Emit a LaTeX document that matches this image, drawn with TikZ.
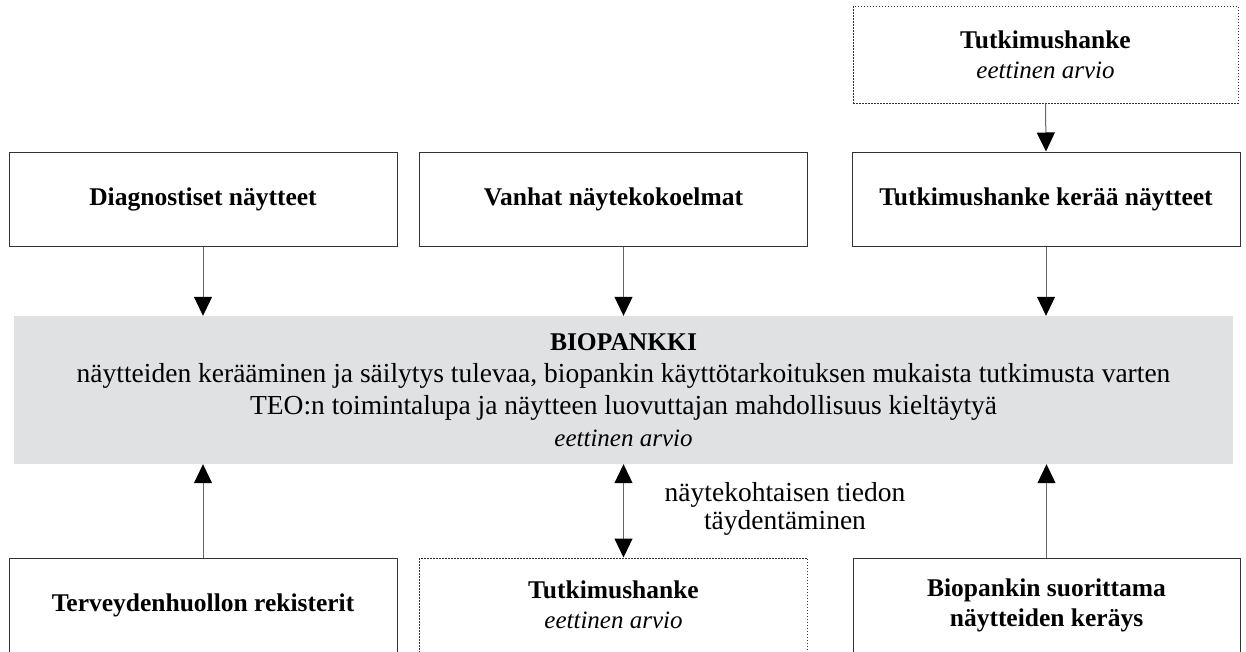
\documentclass[tikz,border=0pt]{standalone}
\usepackage{fontspec}
\setmainfont{Liberation Serif}
\usetikzlibrary{arrows.meta}
\begin{document}
\begin{tikzpicture}[x=1pt,y=-1pt,
  box/.style={draw=black!80, line width=1pt, minimum width=388pt, minimum height=94pt, inner sep=0pt, align=center, font=\fontsize{25.5}{30}\selectfont\bfseries},
  dbox/.style={box, dash pattern=on 1.5pt off 1.5pt},
  tipA/.style={},
  arr/.style={draw=black!60, line width=1pt, -{Triangle[width=18pt,length=19pt,color=black]}},
  darr/.style={draw=black!60, line width=1pt, {Triangle[width=18pt,length=19pt,color=black]}-{Triangle[width=18pt,length=19pt,color=black]}},
  itx/.style={font=\fontsize{25}{30}\selectfont\normalfont\itshape},
]
\useasboundingbox (0,0) rectangle (1246,651);
\clip (0,0) rectangle (1246,651);
% grey band
\node[fill={rgb,255:red,224;green,225;blue,227}, minimum width=1219pt, minimum height=148pt, inner sep=0pt, align=center, font=\fontsize{27.5}{32}\selectfont] (bio) at (623.5,390)
  {{\fontsize{25.5}{32}\selectfont\bfseries BIOPANKKI}\\
   näytteiden kerääminen ja säilytys tulevaa, biopankin käyttötarkoituksen mukaista tutkimusta varten\\
   TEO:n toimintalupa ja näytteen luovuttajan mahdollisuus kieltäytyä\\
   {\fontsize{25}{32}\selectfont\itshape eettinen arvio}};
% top dotted box
\node[dbox, minimum width=385pt, minimum height=97pt] (t) at (1045.5,54.5)
  {Tutkimushanke\\{\fontsize{25}{30}\selectfont\normalfont\itshape eettinen arvio}};
% row 1
\node[box] (b1) at (203,199) {Diagnostiset näytteet};
\node[box] (b2) at (613.5,199) {Vanhat näytekokoelmat};
\node[box] (b3) at (1046,199) {Tutkimushanke kerää näytteet};
% row 3
\node[box] (c1) at (203,605) {Terveydenhuollon rekisterit};
\node[dbox] (c2) at (613.5,605) {Tutkimushanke\\{\fontsize{25}{30}\selectfont\normalfont\itshape eettinen arvio}};
\node[box, minimum width=387pt] (c3) at (1046.5,605) {Biopankin suorittama\\näytteiden keräys};
% label
\node[align=center, inner sep=0pt, font=\fontsize{27.5}{28}\selectfont] (lbl) at (785,509) {näytekohtaisen tiedon\\täydentäminen};
% arrows
\draw[arr] (t.south) -- (b3.north);
\draw[arr] (b1.south) -- (b1.south |- bio.north);
\draw[arr] (b2.south -| bio.center) -- (bio.north);
\draw[arr] (b3.south) -- (b3.south |- bio.north);
\draw[arr] (c1.north) -- (c1.north |- bio.south);
\draw[darr] (bio.south) -- (bio.south |- c2.north);
\draw[arr] (c3.north) -- (c3.north |- bio.south);
\end{tikzpicture}
\end{document}
